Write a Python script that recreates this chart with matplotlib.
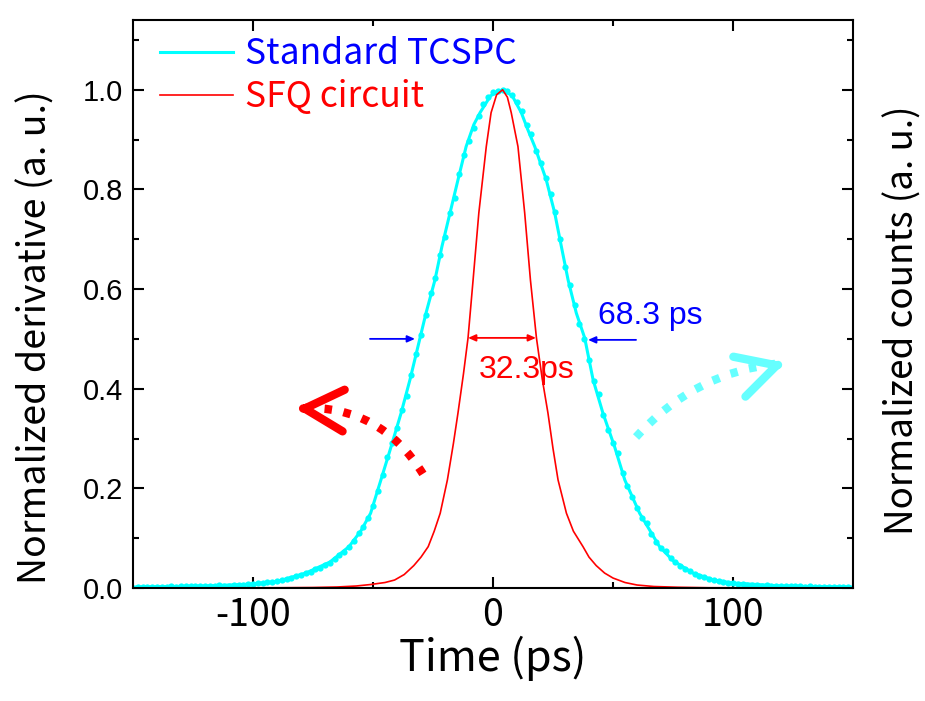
import numpy as np
import matplotlib.pyplot as plt

plt.rcParams['axes.unicode_minus'] = False

GOTHIC = ['Noto Sans CJK JP', 'DejaVu Sans']
ARIAL = ['Liberation Sans', 'DejaVu Sans']

# measured histogram (dots), every 2 ps from -148 to 148
dot_t = np.arange(-148, 149, 2)
dot_y = [0.002, 0.002, 0.003, 0.002, 0.003, 0.003, 0.003, 0.004, 0.003, 0.004,
         0.004, 0.004, 0.005, 0.004, 0.005, 0.005, 0.005, 0.006, 0.005,
         0.005, 0.006, 0.006, 0.007, 0.008, 0.009, 0.010, 0.010, 0.012, 0.013,
         0.015, 0.016, 0.019, 0.021, 0.024, 0.027, 0.031, 0.033, 0.038, 0.041,
         0.047, 0.050, 0.058, 0.066, 0.072, 0.083, 0.094, 0.110, 0.123, 0.140,
         0.164, 0.195, 0.226, 0.262, 0.292, 0.322, 0.358, 0.385, 0.428, 0.470,
         0.508, 0.548, 0.592, 0.622, 0.668, 0.705, 0.752, 0.782, 0.830, 0.870,
         0.898, 0.924, 0.948, 0.972, 0.985,
         0.996,
         0.998, 1.000, 0.998, 0.990, 0.975, 0.958, 0.930, 0.912, 0.878, 0.852,
         0.822, 0.790, 0.755, 0.700, 0.645, 0.608, 0.568, 0.530, 0.500, 0.458,
         0.415, 0.390, 0.348, 0.318, 0.292, 0.270, 0.230, 0.205, 0.182, 0.160,
         0.140, 0.130, 0.108, 0.092, 0.080, 0.075, 0.060, 0.052, 0.045, 0.038,
         0.034, 0.029, 0.025, 0.022, 0.019, 0.016, 0.014, 0.012, 0.011, 0.010,
         0.009, 0.008, 0.007, 0.006, 0.006,
         0.005, 0.006, 0.005, 0.005, 0.004, 0.005, 0.004, 0.004, 0.004, 0.003,
         0.004, 0.003, 0.003, 0.003, 0.002, 0.003, 0.002, 0.002, 0.002]

# fitted curve for standard TCSPC
fit_t = [-150, -120, -100, -90, -78, -68, -60, -55, -51, -46.7, -42.5, -38.3,
         -34.6, -30.4, -27.9, -24.2, -21.3, -17.9, -14.6, -11.2, -8, -5.4, -1,
         4, 8, 11.8, 14.5, 17.4, 22.2, 25.7, 28.5, 31.3, 34.7, 38.2, 41.7, 45.8,
         50.7, 54.9, 61.1, 69.4, 75, 83.3, 92, 100, 120, 150]
fit_y = [0.002, 0.004, 0.008, 0.013, 0.030, 0.052, 0.083, 0.115, 0.150, 0.217,
         0.283, 0.351, 0.418, 0.502, 0.552, 0.618, 0.685, 0.753, 0.819, 0.886,
         0.930, 0.954, 0.988, 1.000, 0.988, 0.954, 0.920, 0.886, 0.819, 0.753,
         0.685, 0.618, 0.552, 0.502, 0.418, 0.351, 0.283, 0.217, 0.150, 0.083,
         0.055, 0.030, 0.016, 0.010, 0.004, 0.002]

# SFQ circuit derivative
sfq_t = [-150, -90, -75, -65, -57, -51, -45, -41, -37, -33, -30, -27, -24.5,
         -22, -19, -16.5, -14.6, -12.3, -10.4, -8.3, -5.9, -2.8, -0.8, 1.5,
         4.0, 6.0, 7.6, 10.4, 13.2, 15.6, 18.1, 20.5, 22.9, 25, 27.1, 30.6,
         33.5, 37.5, 40, 43, 46.5, 50, 55, 60, 67, 77, 90, 150]
sfq_y = [0.0, 0.0005, 0.001, 0.002, 0.004, 0.007, 0.011, 0.016, 0.027, 0.045,
         0.062, 0.083, 0.114, 0.150, 0.217, 0.290, 0.351, 0.430, 0.502, 0.618,
         0.753, 0.886, 0.954, 0.990, 1.000, 0.985, 0.954, 0.886, 0.753, 0.618,
         0.502, 0.420, 0.351, 0.280, 0.217, 0.150, 0.114, 0.083, 0.062, 0.045,
         0.030, 0.020, 0.011, 0.006, 0.003, 0.0015, 0.0005, 0.0]

fig = plt.figure(figsize=(9.25, 7.01), dpi=100)
ax = fig.add_axes([133 / 925, 113 / 701, 720 / 925, 568 / 701])

ax.plot(dot_t, dot_y, 'o', color='#00FFFF', ms=4.5, mec='none')
ax.plot(fit_t, fit_y, color='#00FFFF', lw=2.2, label='Standard TCSPC')
ax.plot(sfq_t, sfq_y, color='#FF0000', lw=1.2, label='SFQ circuit')

ax.set_xlim(-150, 150)
ax.set_ylim(0, 1.14)
ax.set_xticks([-100, 0, 100])
ax.set_xticks([-50, 50], minor=True)
ax.set_yticks([0, 0.2, 0.4, 0.6, 0.8, 1.0])
ax.set_yticks([0.1, 0.3, 0.5, 0.7, 0.9, 1.1], minor=True)
ax.set_yticklabels(['0.0', '0.2', '0.4', '0.6', '0.8', '1.0'])
ax.tick_params(which='both', direction='in', top=True, right=True, width=1.5)
ax.tick_params(which='major', length=8)
ax.tick_params(which='minor', length=4)
ax.tick_params(axis='x', labelsize=27, labelfontfamily=GOTHIC, pad=6)
ax.tick_params(axis='y', labelsize=21, labelfontfamily=ARIAL, pad=7)
for sp in ax.spines.values():
    sp.set_linewidth(1.5)

ax.set_xlabel('Time (ps)', fontsize=31, family=GOTHIC, labelpad=0)
ax.set_ylabel('Normalized derivative (a. u.)', fontsize=27, family=GOTHIC)
ax.yaxis.set_label_coords(-0.108, 0.442)
ax.text(1.069, 0.472, 'Normalized counts (a. u.)', transform=ax.transAxes,
        rotation=90, ha='center', va='center', fontsize=26.5, family=GOTHIC)

leg = ax.legend(loc='upper left', bbox_to_anchor=(0.0375, 0.972), frameon=False,
                borderpad=0, borderaxespad=0, handlelength=2.05,
                handletextpad=0.35, labelspacing=0.2,
                prop={'family': GOTHIC, 'size': 25.5},
                labelcolor=['#0000FF', '#FF0000'])

# FWHM markers
blue_arrow = dict(arrowstyle='-|>,head_length=0.45,head_width=0.2',
                  color='#0000FF', lw=1.3, shrinkA=0, shrinkB=0)
ax.annotate('', xy=(-32.5, 0.50), xytext=(-51.25, 0.50), arrowprops=blue_arrow)
ax.annotate('', xy=(39.6, 0.498), xytext=(59.6, 0.498), arrowprops=blue_arrow)
ax.annotate('', xy=(17.9, 0.502), xytext=(-10.4, 0.502),
            arrowprops=dict(arrowstyle='<|-|>,head_length=0.45,head_width=0.2',
                            color='#FF0000', lw=1.3, shrinkA=0, shrinkB=0))
ax.text(43.75, 0.546, '68.3 ps', color='#0000FF', fontsize=23, family=ARIAL,
        ha='left', va='center')
ax.text(14.2, 0.438, '32.3ps', color='#FF0000', fontsize=23, family=ARIAL,
        ha='center', va='center')


def dotted_arrow(tail, tip, back, rad, color):
    ax.annotate('', xy=tip, xytext=tail,
                arrowprops=dict(arrowstyle='-', color=color, lw=6,
                                linestyle=(0, (0.9, 1.4)), capstyle='butt',
                                shrinkA=0, shrinkB=4,
                                connectionstyle='arc3,rad=%s' % rad))
    ax.annotate('', xy=tip, xytext=back,
                arrowprops=dict(arrowstyle='->,head_length=1.4,head_width=0.75',
                                color=color, lw=6, capstyle='round',
                                joinstyle='round', shrinkA=0, shrinkB=0,
                                mutation_scale=20))


dotted_arrow((-29.2, 0.229), (-82.1, 0.361), (-78.0, 0.360), 0.3, '#FF0000')
dotted_arrow((59.6, 0.303), (121.7, 0.452), (117.6, 0.446), -0.2, '#66FFFF')

fig.savefig('out.png', dpi=100)
